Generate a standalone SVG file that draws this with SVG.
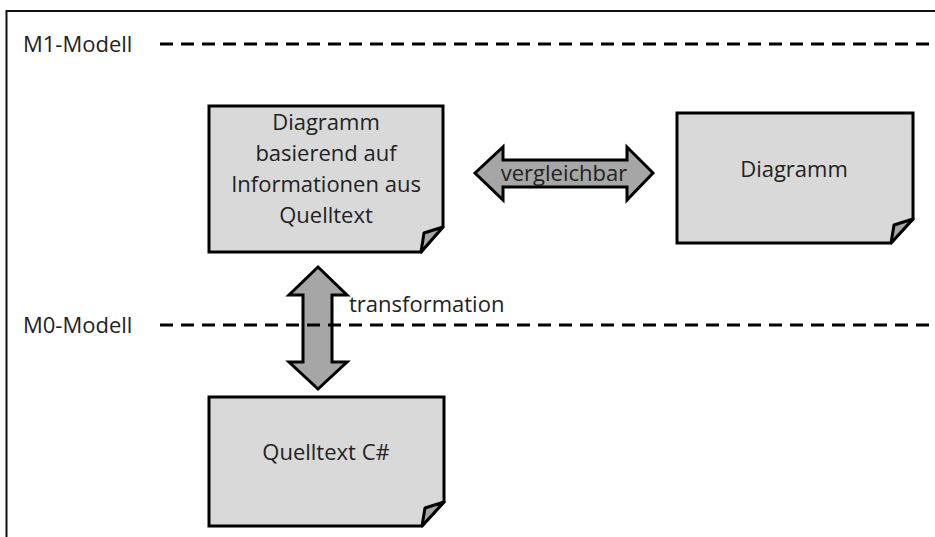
<svg xmlns="http://www.w3.org/2000/svg" width="935" height="537" viewBox="0 0 935 537">
  <style>
    .frame { fill: none; stroke: #111; stroke-width: 2; }
    .level { fill: none; stroke: #000; stroke-width: 3; stroke-dasharray: 13 8; }
    .page { fill: #d9d9d9; stroke: #000; stroke-width: 3; stroke-linejoin: miter; }
    .fold { fill: #a6a6a6; stroke: #000; stroke-width: 3; stroke-linejoin: round; }
    .arrow { fill: #a6a6a6; stroke: #000; stroke-width: 3; stroke-linejoin: miter; }
    .lbl { font-family: "Open Sans", "Liberation Sans", sans-serif; font-size: 22px; fill: #222; }
    .mid { text-anchor: middle; }
  </style>

  <rect x="0" y="0" width="935" height="537" fill="#fff"/>
  <!-- outer frame, open past the right and bottom edge -->
  <rect class="frame" x="6.5" y="11" width="940" height="540"/>

  <!-- level labels -->
  <text class="lbl" x="23" y="52">M1-Modell</text>
  <text class="lbl" x="23" y="333">M0-Modell</text>

  <g id="connectors">
    <!-- vergleichbar: horizontal double arrow -->
    <path class="arrow" d="M475,173 L503,147 L503,160 L627,160 L627,147 L653,173 L627,200 L627,187 L503,187 L503,200 Z"/>
    <text class="lbl mid" x="564" y="181">vergleichbar</text>
    <!-- transformation: vertical double arrow -->
    <path class="arrow" d="M318,267 L347,295 L332,295 L332,362 L347,362 L318,389 L289,362 L303,362 L303,295 L289,295 Z"/>
    <text class="lbl" x="349" y="312">transformation</text>
  </g>

  <!-- level separators drawn over the arrow -->
  <line class="level" x1="160" y1="44" x2="935" y2="44"/>
  <line class="level" x1="160" y1="325" x2="935" y2="325"/>

  <g id="node-diagramm-quelltext">
    <path class="page" d="M209,106 H443 V227 L421,252 H209 Z"/>
    <path class="fold" d="M421,252 L424,233 L443,227 Z"/>
    <text class="lbl mid" x="326" y="130">Diagramm</text>
    <text class="lbl mid" x="326" y="161">basierend auf</text>
    <text class="lbl mid" x="326" y="192">Informationen aus</text>
    <text class="lbl mid" x="326" y="223">Quelltext</text>
  </g>

  <g id="node-diagramm">
    <path class="page" d="M677,113 H913 V219 L891,243 H677 Z"/>
    <path class="fold" d="M891,243 L894,225 L913,219 Z"/>
    <text class="lbl mid" x="794" y="177">Diagramm</text>
  </g>

  <g id="node-quelltext">
    <path class="page" d="M209,397 H444 V502 L422,526 H209 Z"/>
    <path class="fold" d="M422,526 L425,508 L444,502 Z"/>
    <text class="lbl mid" x="326" y="460">Quelltext C#</text>
  </g>
</svg>
